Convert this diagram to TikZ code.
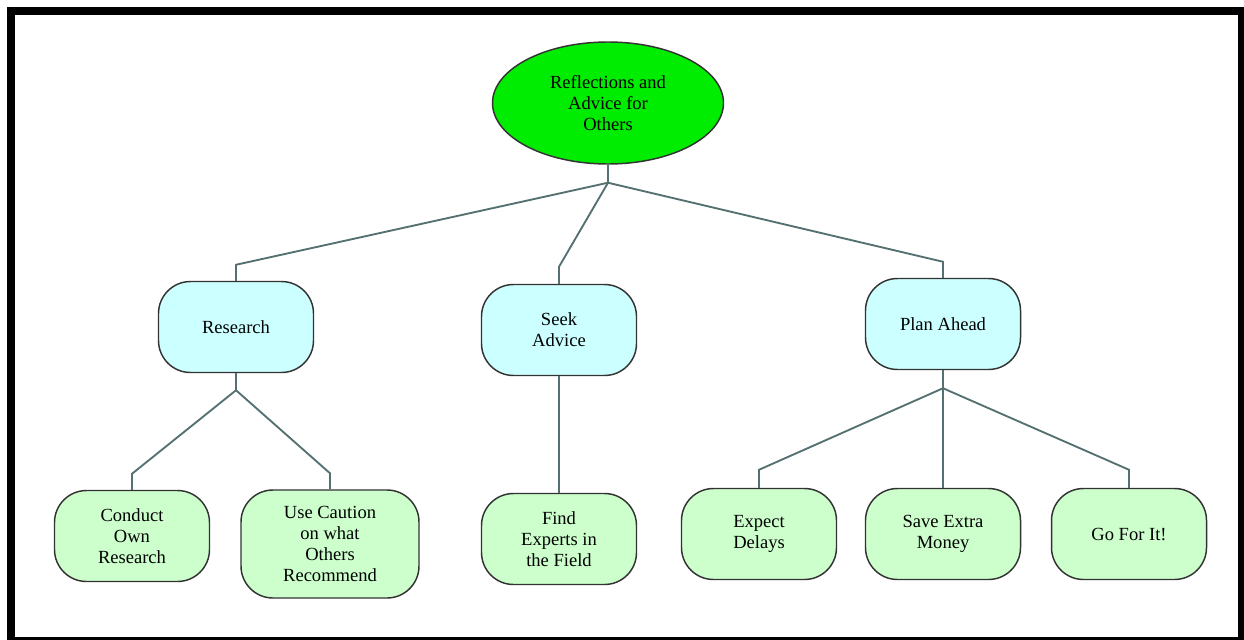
\documentclass[tikz,border=0pt]{standalone}
\usepackage{fontspec}
\setmainfont{Liberation Serif}
\usetikzlibrary{shapes.geometric}
\definecolor{rootgreen}{RGB}{0,236,0}
\definecolor{topiccyan}{RGB}{204,255,255}
\definecolor{leafgreen}{RGB}{204,255,204}
\definecolor{linkgray}{RGB}{84,112,112}
\tikzset{box/.style={draw=black!80, line width=1.1pt, rounded corners=24pt, align=center, inner sep=0pt,
  minimum width=116.25pt, minimum height=68.25pt, font=\fontsize{13.9}{15.75}\selectfont},
topic/.style={box, fill=topiccyan},
leaf/.style={box, fill=leafgreen},
%links run from a node down to its children
link/.style={draw=linkgray, line width=1.4pt}}

\begin{document}
\begin{tikzpicture}[x=0.75pt,y=-0.75pt]
\useasboundingbox (0,0) rectangle (1244,639);
\draw[line width=6pt] (11,11) rectangle (1242,641);

\node[ellipse, draw=black!80, line width=1.1pt, fill=rootgreen, minimum width=173.25pt, minimum height=91.5pt,
  align=center, inner sep=0pt, font=\fontsize{13.9}{15.75}\selectfont] (root) at (608,103) {Reflections and\\Advice for\\Others};

\node[topic] (research) at (236,327) {Research};
\node[topic] (seek) at (559,330) {Seek\\Advice};
\node[topic] (plan) at (943,324) {Plan Ahead};

\node[leaf] (conduct) at (132,536) {Conduct\\Own\\Research};
\node[leaf, minimum width=133.5pt, minimum height=81pt] (caution) at (330,544) {Use Caution\\on what\\Others\\Recommend};
\node[leaf] (experts) at (559,539) {Find\\Experts in\\the Field};
\node[leaf] (delays) at (759,534) {Expect\\Delays};
\node[leaf] (money) at (943,534) {Save Extra\\Money};
\node[leaf] (goforit) at (1129,534) {Go For It!};

\coordinate (rootj) at ([yshift=-13.5pt]root.south);
\coordinate (researchj) at ([yshift=-12.75pt]research.south);
\coordinate (planj) at ([yshift=-13.5pt]plan.south);

\draw[link] (root.south) -- (rootj);
\draw[link] (rootj) -- ([yshift=12pt]research.north) -- (research.north);
\draw[link] (rootj) -- ([yshift=12.75pt]seek.north) -- (seek.north);
\draw[link] (rootj) -- ([yshift=12pt]plan.north) -- (plan.north);

\draw[link] (research.south) -- (researchj);
\draw[link] (researchj) -- ([yshift=12pt]conduct.north) -- (conduct.north);
\draw[link] (researchj) -- ([yshift=12pt]caution.north) -- (caution.north);

\draw[link] (seek.south) -- (experts.north);

\draw[link] (plan.south) -- (planj);
\draw[link] (planj) -- ([yshift=13.5pt]delays.north) -- (delays.north);
\draw[link] (planj) -- (money.north);
\draw[link] (planj) -- ([yshift=13.5pt]goforit.north) -- (goforit.north);
\end{tikzpicture}
\end{document}
